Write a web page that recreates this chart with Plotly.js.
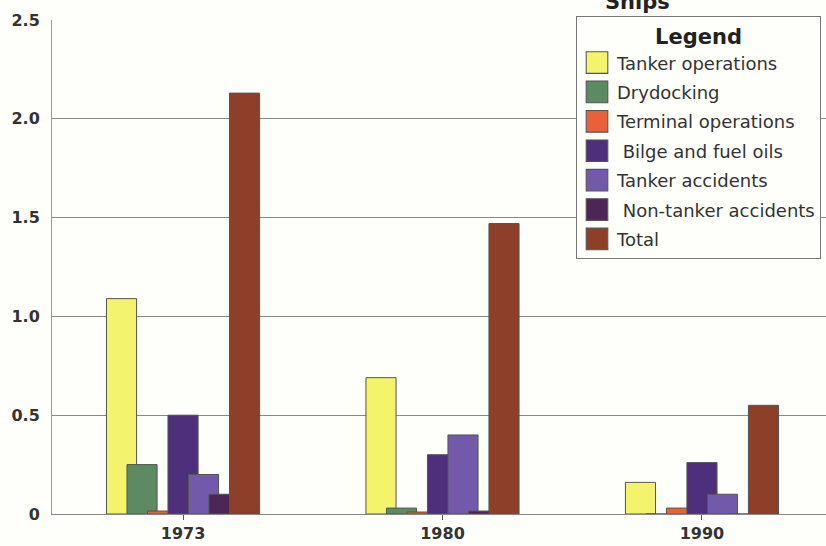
<!DOCTYPE html>
<html>
<head>
<meta charset="utf-8">
<script src="https://cdn.plot.ly/plotly-3.0.1.min.js"></script>
<style>html,body{margin:0;padding:0;background:#fefefa;}#chart{width:826px;height:546px;}</style>
</head>
<body>
<div id="chart"></div>
<script>
const years = ['1973', '1980', '1990'];
const seriesNames = ['Tanker operations', 'Drydocking', 'Terminal operations', ' Bilge and fuel oils', 'Tanker accidents', ' Non-tanker accidents', 'Total'];
const tankerOperations = [1.09, 0.69, 0.16];
const drydocking = [0.25, 0.03, 0.0];
const terminalOperations = [0.015, 0.01, 0.03];
const bilgeFuelOils = [0.50, 0.30, 0.26];
const tankerAccidents = [0.20, 0.40, 0.10];
const nonTankerAccidents = [0.10, 0.015, 0.0];
const total = [2.13, 1.47, 0.55];
const seriesColors = ['#f4f46c', '#5c8a62', '#ea6038', '#4e2f7c', '#7259aa', '#4c2656', '#8e3f2a'];
const yTickVals = [0, 0.5, 1.0, 1.5, 2.0, 2.5];
const yTickText = ['0', '0.5', '1.0', '1.5', '2.0', '2.5'];

const FONT = 'DejaVu Sans, Verdana, sans-serif';
const allSeries = [tankerOperations, drydocking, terminalOperations, bilgeFuelOils, tankerAccidents, nonTankerAccidents, total];
const step = 0.079, barW = 0.116;
const traces = allSeries.map((vals, i) => ({
  type: 'bar', x: years, y: vals, name: seriesNames[i],
  width: barW, offset: (i - 3) * step - barW / 2,
  legendgroup: 'g' + i,
  marker: {color: seriesColors[i], line: {color: '#555', width: 1}}
}));

const layout = {
  width: 826, height: 546,
  margin: {l: 52, r: 0, t: 20, b: 32},
  paper_bgcolor: '#fefefa', plot_bgcolor: '#fefefa',
  barmode: 'overlay',
  font: {family: FONT, color: '#333'},
  xaxis: {type: 'category', range: [-0.505, 2.478], showgrid: false,
    showline: true, linecolor: '#888', linewidth: 1,
    ticks: 'outside', ticklen: 5, tickcolor: '#555',
    tickfont: {size: 16, family: FONT, weight: 'bold', color: '#333'}},
  yaxis: {range: [0, 2.5], tickvals: yTickVals, ticktext: yTickText,
    showgrid: true, gridcolor: '#8a8a85', gridwidth: 1, zeroline: false,
    showline: true, linecolor: '#999', linewidth: 1, ticks: '', ticklabelstandoff: 8,
    tickfont: {size: 16, family: FONT, weight: 'bold', color: '#333'}},
  legend: {x: 0.677, y: 1.008, xanchor: 'left', yanchor: 'top',
    bgcolor: '#fefefa', bordercolor: '#777', borderwidth: 1,
    font: {size: 18, color: '#333', family: FONT}, tracegroupgap: 3, traceorder: 'grouped',
    title: {text: '<b>Legend</b>', side: 'top center', font: {size: 21, color: '#222', family: FONT}}},
  annotations: [{text: '<b>Ships</b>', xref: 'paper', yref: 'paper', x: 0.756, y: 1 + 4 / 494,
    yanchor: 'bottom', xanchor: 'center', showarrow: false, font: {size: 21, color: '#222', family: FONT}}]
};

Plotly.newPlot('chart', traces, layout, {displayModeBar: false, staticPlot: true}).then(() => {
  document.querySelectorAll('#chart .legend .legendpoints path').forEach(p => {
    const t = p.getAttribute('transform') || '';
    p.setAttribute('transform', t + ' scale(1.8)');
    p.style.strokeWidth = '0.6px';
  });
});
</script>
</body>
</html>
